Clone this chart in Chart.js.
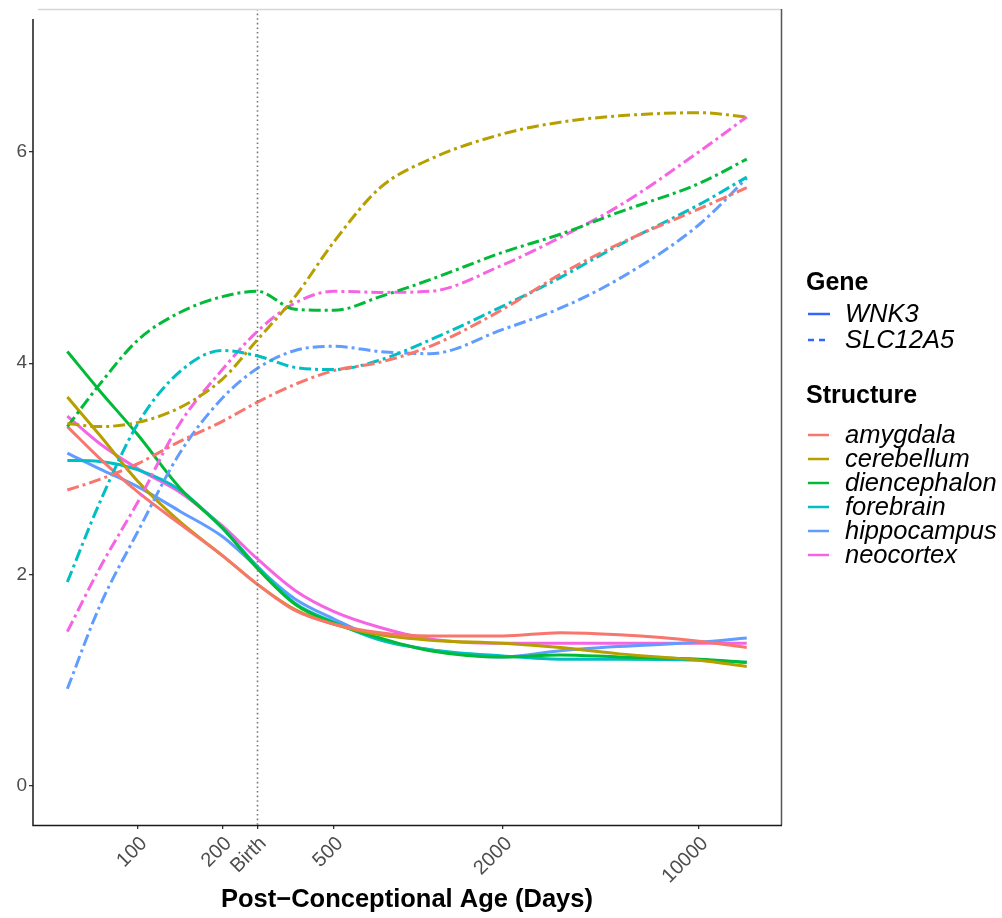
<!DOCTYPE html>
<html>
<head>
<meta charset="utf-8">
<script src="https://cdn.jsdelivr.net/npm/chart.js@4.4.1/dist/chart.umd.min.js"></script>
<style>
html,body{margin:0;padding:0;background:#fff;}
canvas{display:block;}
</style>
</head>
<body>
<canvas id="c" width="1002" height="918"></canvas>
<script>
// ---- data ----
const ageDays = [56, 73, 100, 141, 200, 266, 363, 500, 730, 1100, 2000, 3200, 5200, 10000, 14800];
const structures = ['amygdala', 'cerebellum', 'diencephalon', 'forebrain', 'hippocampus', 'neocortex'];
const structureColors = ['#F8766D', '#B79F00', '#00BA38', '#00BFC4', '#619CFF', '#F564E3'];
const genes = ['WNK3', 'SLC12A5'];
const geneKeyColor = '#3366FF';

// WNK3 (solid)
const wnk3Amygdala     = [3.40, 3.10, 2.78, 2.48, 2.18, 1.91, 1.66, 1.53, 1.45, 1.42, 1.42, 1.45, 1.43, 1.37, 1.31];
const wnk3Cerebellum   = [3.68, 3.32, 2.88, 2.50, 2.18, 1.91, 1.67, 1.53, 1.43, 1.38, 1.35, 1.31, 1.25, 1.19, 1.13];
const wnk3Diencephalon = [4.11, 3.74, 3.32, 2.82, 2.44, 2.06, 1.72, 1.54, 1.40, 1.28, 1.22, 1.24, 1.22, 1.20, 1.17];
const wnk3Forebrain    = [3.08, 3.07, 2.99, 2.80, 2.44, 2.08, 1.73, 1.55, 1.38, 1.29, 1.23, 1.20, 1.20, 1.19, 1.17];
const wnk3Hippocampus  = [3.15, 3.00, 2.83, 2.60, 2.36, 2.07, 1.77, 1.58, 1.39, 1.29, 1.22, 1.28, 1.32, 1.36, 1.40];
const wnk3Neocortex    = [3.50, 3.24, 3.00, 2.78, 2.46, 2.15, 1.85, 1.65, 1.50, 1.39, 1.35, 1.35, 1.35, 1.35, 1.35];

// SLC12A5 (dot-dash)
const slcAmygdala      = [2.80, 2.90, 3.05, 3.26, 3.45, 3.63, 3.80, 3.93, 4.01, 4.16, 4.51, 4.84, 5.13, 5.46, 5.66];
const slcCerebellum    = [3.43, 3.40, 3.44, 3.58, 3.85, 4.22, 4.63, 5.15, 5.66, 5.93, 6.17, 6.28, 6.34, 6.37, 6.33];
const slcDiencephalon  = [3.40, 3.80, 4.22, 4.48, 4.63, 4.68, 4.51, 4.50, 4.63, 4.79, 5.05, 5.22, 5.43, 5.70, 5.93];
const slcForebrain     = [1.93, 2.68, 3.43, 3.92, 4.12, 4.07, 3.96, 3.94, 4.03, 4.22, 4.54, 4.81, 5.12, 5.50, 5.76];
const slcHippocampus   = [0.92, 1.70, 2.41, 3.15, 3.67, 3.95, 4.12, 4.16, 4.11, 4.09, 4.32, 4.52, 4.80, 5.31, 5.75];
const slcNeocortex     = [1.46, 2.06, 2.69, 3.43, 3.94, 4.30, 4.57, 4.68, 4.67, 4.68, 4.93, 5.19, 5.49, 6.00, 6.33];

const xTickValues = [100, 200, 266, 500, 2000, 10000];
const xTickLabels = ['100', '200', 'Birth', '500', '2000', '10000'];
const yTickValues = [0, 2, 4, 6];
const birthDay = 266;
const xTitle = 'Post\u2212Conceptional Age (Days)';

const wnk3Series = [wnk3Amygdala, wnk3Cerebellum, wnk3Diencephalon, wnk3Forebrain, wnk3Hippocampus, wnk3Neocortex];
const slcSeries  = [slcAmygdala, slcCerebellum, slcDiencephalon, slcForebrain, slcHippocampus, slcNeocortex];

// ---- chart ----
const FONT = "'Liberation Sans', Arial, Helvetica, sans-serif";
Chart.defaults.font.family = FONT;

const datasets = [];
structures.forEach((s, i) => {
  datasets.push({
    label: s + ' ' + genes[1],
    data: ageDays.map((d, j) => ({x: d, y: slcSeries[i][j]})),
    borderColor: structureColors[i],
    borderWidth: 3,
    borderDash: [12, 4, 3, 4],
    borderCapStyle: 'butt',
    pointRadius: 0,
    cubicInterpolationMode: 'monotone',
    fill: false
  });
});
structures.forEach((s, i) => {
  datasets.push({
    label: s + ' ' + genes[0],
    data: ageDays.map((d, j) => ({x: d, y: wnk3Series[i][j]})),
    borderColor: structureColors[i],
    borderWidth: 3,
    pointRadius: 0,
    cubicInterpolationMode: 'monotone',
    fill: false
  });
});

const decor = {
  id: 'decor',
  afterDatasetsDraw(chart) {
    const ctx = chart.ctx, a = chart.chartArea;
    const xs = chart.scales.x;
    const bx = Math.round(xs.getPixelForValue(birthDay)) + 0.5;
    ctx.save();
    ctx.strokeStyle = '#777777';
    ctx.lineWidth = 1.6;
    ctx.setLineDash([1.6, 3]);
    ctx.beginPath();
    ctx.moveTo(bx, a.top);
    ctx.lineTo(bx, a.bottom);
    ctx.stroke();
    ctx.restore();
  },
  afterDraw(chart) {
    const ctx = chart.ctx, a = chart.chartArea;
    ctx.save();
    // panel frame pieces
    ctx.lineWidth = 1.5;
    ctx.strokeStyle = '#d6d6d6';
    ctx.beginPath(); ctx.moveTo(a.left + 5, a.top + 0.5); ctx.lineTo(a.right, a.top + 0.5); ctx.stroke();
    ctx.strokeStyle = '#555555';
    ctx.beginPath(); ctx.moveTo(a.right + 0.5, a.top); ctx.lineTo(a.right + 0.5, a.bottom); ctx.stroke();
    ctx.strokeStyle = '#1a1a1a';
    ctx.beginPath(); ctx.moveTo(a.left, a.top + 10); ctx.lineTo(a.left, a.bottom + 0.5); ctx.lineTo(a.right + 1, a.bottom + 0.5); ctx.stroke();

    // x axis title
    ctx.fillStyle = '#000000';
    ctx.font = 'bold 25.5px ' + FONT;
    ctx.textAlign = 'center';
    ctx.textBaseline = 'middle';
    ctx.fillText(xTitle, (a.left + a.right) / 2, 900);

    // legend
    const lx = 806, keyX0 = 808, keyX1 = 829, tx = 845;
    ctx.textAlign = 'left';
    ctx.font = 'bold 25px ' + FONT;
    ctx.fillText('Gene', lx, 283);
    const geneY = [314, 340];
    ctx.font = 'italic 25.5px ' + FONT;
    genes.forEach((g, i) => {
      ctx.strokeStyle = geneKeyColor;
      ctx.lineWidth = 2.5;
      ctx.setLineDash(i === 0 ? [] : [6, 5]);
      ctx.beginPath(); ctx.moveTo(keyX0, geneY[i]); ctx.lineTo(keyX1 + 1, geneY[i]); ctx.stroke();
      ctx.setLineDash([]);
      ctx.fillStyle = '#000000';
      ctx.fillText(g, tx, geneY[i] + 1);
    });
    ctx.font = 'bold 25px ' + FONT;
    ctx.fillText('Structure', lx, 396);
    ctx.font = 'italic 25.5px ' + FONT;
    structures.forEach((s, i) => {
      const y = 435 + i * 24;
      ctx.strokeStyle = structureColors[i];
      ctx.lineWidth = 2.5;
      ctx.beginPath(); ctx.moveTo(keyX0, y); ctx.lineTo(keyX1, y); ctx.stroke();
      ctx.fillStyle = '#000000';
      ctx.fillText(s, tx, y + 1);
    });
    ctx.restore();
  }
};

new Chart(document.getElementById('c'), {
  type: 'line',
  data: {datasets},
  options: {
    responsive: false,
    animation: false,
    events: [],
    devicePixelRatio: 1,
    layout: {padding: {left: 0, right: 221, top: 9, bottom: 0}},
    plugins: {legend: {display: false}, tooltip: {enabled: false}},
    scales: {
      x: {
        type: 'logarithmic',
        min: 42.24,
        max: 19605,
        afterFit(s) { s.height = 93; s.paddingLeft = 0; s.paddingRight = 0; },
        afterBuildTicks(s) { s.ticks = xTickValues.map(v => ({value: v})); },
        grid: {drawOnChartArea: false, drawTicks: true, tickLength: 4, color: '#333333', lineWidth: 1.3},
        border: {display: false},
        ticks: {
          autoSkip: false,
          minRotation: 45,
          maxRotation: 45,
          padding: 3,
          labelOffset: 6,
          color: '#4d4d4d',
          font: {size: 20},
          callback: (v, i) => xTickLabels[i]
        }
      },
      y: {
        type: 'linear',
        min: -0.369,
        max: 7.351,
        afterFit(s) { s.width = 33; s.paddingTop = 0; s.paddingBottom = 0; },
        afterBuildTicks(s) { s.ticks = yTickValues.map(v => ({value: v})); },
        grid: {drawOnChartArea: false, drawTicks: true, tickLength: 4, color: '#333333', lineWidth: 1.3},
        border: {display: false},
        ticks: {
          padding: 2,
          color: '#4d4d4d',
          font: {size: 19},
          callback: v => String(v)
        }
      }
    }
  },
  plugins: [decor]
});
</script>
</body>
</html>
